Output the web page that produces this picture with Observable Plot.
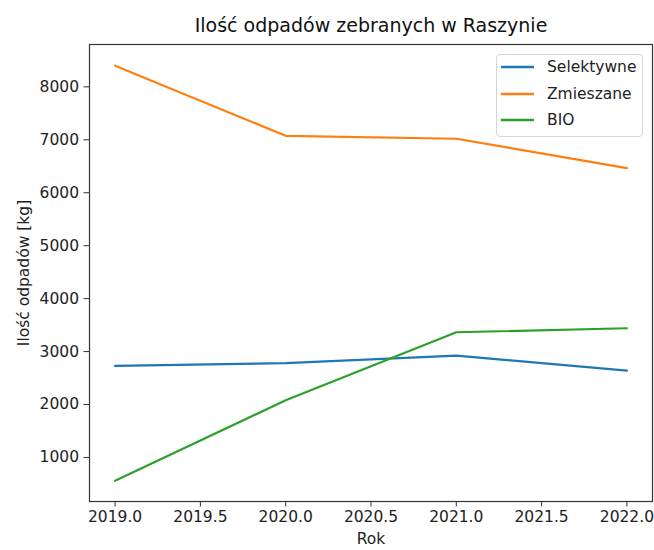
<!DOCTYPE html>
<html>
<head>
<meta charset="utf-8">
<script src="https://cdn.jsdelivr.net/npm/d3@7"></script>
<script src="https://cdn.jsdelivr.net/npm/@observablehq/plot@0.6"></script>
<style>
  html, body { margin: 0; padding: 0; background: #fff; }
  #wrap { position: relative; width: 654px; height: 550px; font-family: "DejaVu Sans", sans-serif; }
  #legend { position: absolute; left: 496px; top: 54px; width: 147px; height: 83px;
    border: 1px solid #d6d6d6; border-radius: 4px; background: rgba(255,255,255,0.85);
    box-sizing: border-box; padding-top: 0; }
  .row { display: flex; align-items: center; height: 26.5px; font-size: 15.5px; color: #222; }
  .row:first-child { margin-top: -1px; }
  .row svg { margin-left: 4px; margin-right: 13px; }
</style>
</head>
<body>
<div id="wrap"></div>
<script>
const title = "Ilość odpadów zebranych w Raszynie";
const xLabel = "Rok";
const yLabel = "Ilość odpadów [kg]";
const years = [2019, 2020, 2021, 2022];
const seriesNames = ["Selektywne", "Zmieszane", "BIO"];
const seriesColors = ["#1f77b4", "#ff7f0e", "#2ca02c"];
const selektywne = [2730, 2780, 2925, 2640];
const zmieszane = [8400, 7075, 7020, 6465];
const bio = [560, 2080, 3365, 3440];
const xTicks = [2019, 2019.5, 2020, 2020.5, 2021, 2021.5, 2022];
const yTicks = [1000, 2000, 3000, 4000, 5000, 6000, 7000, 8000];

const seriesValues = [selektywne, zmieszane, bio];
const data = seriesNames.flatMap((name, i) =>
  years.map((year, j) => ({ series: name, year, value: seriesValues[i][j] })));

const chart = Plot.plot({
  width: 654,
  height: 550,
  marginLeft: 89,
  marginRight: 2,
  marginTop: 44,
  marginBottom: 49,
  style: { fontFamily: "DejaVu Sans, sans-serif", fontSize: "15.5px", color: "#222", background: "#fff" },
  x: { domain: [2018.85, 2022.15] },
  y: { domain: [168, 8800] },
  color: { domain: seriesNames, range: seriesColors },
  marks: [
    Plot.frame({ stroke: "#333", strokeWidth: 1.2 }),
    Plot.axisX({ ticks: xTicks, tickFormat: d3.format(".1f"), tickSize: 5.5, tickPadding: 4,
      fontSize: 15.5, label: xLabel, labelAnchor: "center", labelOffset: 42, labelArrow: "none", stroke: "#333" }),
    Plot.axisY({ ticks: yTicks, tickFormat: d => String(d), tickSize: 5.5, tickPadding: 5,
      fontSize: 15.5, label: yLabel, labelAnchor: "center", labelOffset: 72, labelArrow: "none", stroke: "#333" }),
    Plot.line(data, { x: "year", y: "value", z: "series", stroke: "series", strokeWidth: 2.2 }),
    Plot.text([title], { frameAnchor: "top", dy: -19, fontSize: 19, fill: "#111", lineAnchor: "middle" })
  ]
});

const wrap = document.getElementById("wrap");
wrap.appendChild(chart);

const legend = document.createElement("div");
legend.id = "legend";
seriesNames.forEach((name, i) => {
  const row = document.createElement("div");
  row.className = "row";
  row.innerHTML = `<svg width="33" height="4"><line x1="0" x2="33" y1="2" y2="2" stroke="${seriesColors[i]}" stroke-width="2.4"/></svg><span>${name}</span>`;
  legend.appendChild(row);
});
wrap.appendChild(legend);
</script>
</body>
</html>
